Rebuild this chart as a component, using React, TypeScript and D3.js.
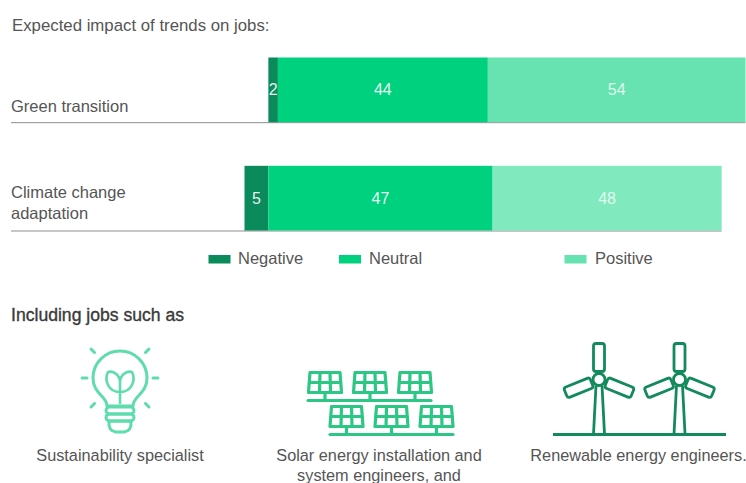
import React from "react";
import * as d3 from "d3";

const categories = ["Green transition", "Climate change adaptation"];
const categoryLines = [["Green transition"], ["Climate change", "adaptation"]];
const leadOffset = [5, 0];
const negative = [2, 5];
const neutral = [44, 47];
const positive = [54, 48];
const seriesNames = ["Negative", "Neutral", "Positive"];
const title = "Expected impact of trends on jobs:";
const subtitle = "Including jobs such as";

const DARK = "#0b8a5c";
const MID = "#00d17f";
const LIGHT = ["#66e3b1", "#80e9bd"];
const TEXT = "#555";
const FONT = "'Liberation Sans', Arial, sans-serif";

const width = 746;
const height = 483;

const x = d3.scaleLinear().domain([0, 105]).range([244.5, 745.5]);
const y = d3.scaleBand<string>().domain(categories).range([57.5, 230.5]).paddingInner(43.5 / 108).paddingOuter(0);

function Bulb() {
  const c = "#5fdcac";
  const rays = [0, 45, 135, 180, 225, 315];
  return (
    <g fill="none" stroke={c} strokeWidth={3} strokeLinecap="round" strokeLinejoin="round">
      <path d="M107 406 C107 396 93 394 93 378 A27 27 0 1 1 147 378 C147 394 133 396 133 406 Z" />
      <path d="M120 403 V380 M120 392 C108 392 104 380 108 372 C114 370 120 376 120 382 C120 376 126 370 132 372 C136 380 132 392 120 392" strokeWidth={2.6} />
      <rect x={106} y={407} width={28} height={7} rx={3.5} />
      <rect x={106} y={414} width={28} height={7} rx={3.5} />
      <path d="M109 421 H131 Q132 431 124 432 H116 Q108 431 109 421" />
      {rays.map((a) => {
        const r = (a * Math.PI) / 180;
        const r1 = a % 90 === 0 ? 33 : 36;
        const r2 = a % 90 === 0 ? 38 : 41;
        return (
          <line key={a} x1={120 + r1 * Math.cos(r)} y1={378 - r1 * Math.sin(r)} x2={120 + r2 * Math.cos(r)} y2={378 - r2 * Math.sin(r)} />
        );
      })}
    </g>
  );
}

function Panel({ px, py }: { px: number; py: number }) {
  return (
    <g>
      <path d={`M${px + 1.5} ${py} H${px + 31.5} L${px + 33} ${py + 20} H${px} Z`} />
      <path d={`M${px + 11.5} ${py} L${px + 11} ${py + 20} M${px + 21.5} ${py} L${px + 22} ${py + 20} M${px + 0.8} ${py + 10} H${px + 32.2}`} />
      <path d={`M${px + 16.5} ${py + 20} V${py + 28}`} />
    </g>
  );
}

function Solar() {
  const top = [308.5, 353.5, 398.5];
  const bottom = [330, 375, 420];
  return (
    <g fill="none" stroke="#2cc785" strokeWidth={3.2} strokeLinejoin="round" strokeLinecap="round">
      {top.map((p) => <Panel key={p} px={p} py={372.5} />)}
      <line x1={308} x2={431} y1={400.5} y2={400.5} />
      {bottom.map((p) => <Panel key={p} px={p} py={406.5} />)}
      <line x1={330} x2={453} y1={434.5} y2={434.5} />
    </g>
  );
}

function Turbine({ cx }: { cx: number }) {
  const hub = 379.5;
  return (
    <g>
      {[0, 112, 248].map((a) => (
        <rect key={a} x={cx - 5.5} y={hub - 36} width={11} height={28} rx={2.5} transform={`rotate(${a} ${cx} ${hub})`} />
      ))}
      <circle cx={cx} cy={hub} r={6} />
      <path d={`M${cx - 3} ${hub + 6} L${cx - 5.5} 434 M${cx + 3} ${hub + 6} L${cx + 5.5} 434`} />
    </g>
  );
}

export default function App() {
  const bars = categories.map((name, i) => {
    const a = leadOffset[i];
    const b = a + negative[i];
    const c = b + neutral[i];
    const d = c + positive[i];
    return { name, i, segs: [
      { key: "neg", x0: a, x1: b, v: negative[i], fill: DARK },
      { key: "neu", x0: b, x1: c, v: neutral[i], fill: MID },
      { key: "pos", x0: c, x1: d, v: positive[i], fill: LIGHT[i] },
    ] };
  });
  const legendSwatch = [208.5, 339, 564.5];
  const legendText = [238, 369, 595];
  const legendFill = [DARK, MID, LIGHT[0]];

  return (
    <svg width={width} height={height} viewBox={`0 0 ${width} ${height}`} style={{ position: "absolute", left: 0, top: 0, background: "#fff" }} fontFamily={FONT}>
      <text x={12} y={31} fontSize={16.8} fill={TEXT}>{title}</text>

      {bars.map((bar) => {
        const top = y(bar.name)!;
        const bw = y.bandwidth();
        return (
          <g key={bar.name}>
            <line x1={11} x2={x(bar.segs[2].x1)} y1={top + bw + 0.5} y2={top + bw + 0.5} stroke="#8d8d8d" strokeWidth={1} />
            {bar.segs.map((s) => (
              <g key={s.key}>
                <rect x={x(s.x0)} y={top} width={x(s.x1) - x(s.x0)} height={bw} fill={s.fill} />
                <text x={(x(s.x0) + x(s.x1)) / 2} y={top + bw / 2 + 5.5} textAnchor="middle" fontSize={16} fill="#fff" fillOpacity={s.key === "pos" ? 0.8 : 0.92}>{s.v}</text>
              </g>
            ))}
            {categoryLines[bar.i].map((line, j, all) => (
              <text key={line} x={11} y={top + bw - (all.length > 1 ? 12 : 10) - (all.length - 1 - j) * 21} fontSize={16.5} fill={TEXT}>{line}</text>
            ))}
          </g>
        );
      })}

      {seriesNames.map((n, i) => (
        <g key={n}>
          <rect x={legendSwatch[i]} y={255} width={22} height={8.5} fill={legendFill[i]} />
          <text x={legendText[i]} y={264} fontSize={16.5} fill={TEXT}>{n}</text>
        </g>
      ))}

      <text x={11} y={321} fontSize={17.6} fill="#3a3a3a" stroke="#3a3a3a" strokeWidth={0.35}>{subtitle}</text>

      <Bulb />
      <Solar />
      <g fill="none" stroke="#128a5c" strokeWidth={2.8} strokeLinejoin="round">
        <Turbine cx={599} />
        <Turbine cx={679.5} />
        <line x1={553} x2={726} y1={434.5} y2={434.5} strokeWidth={3} />
      </g>

      <g fontSize={16.3} fill={TEXT} textAnchor="middle">
        <text x={120} y={461}>Sustainability specialist</text>
        <text x={379} y={461}>Solar energy installation and</text>
        <text x={379} y={481}>system engineers, and</text>
        <text x={638.5} y={461}>Renewable energy engineers.</text>
      </g>
    </svg>
  );
}
